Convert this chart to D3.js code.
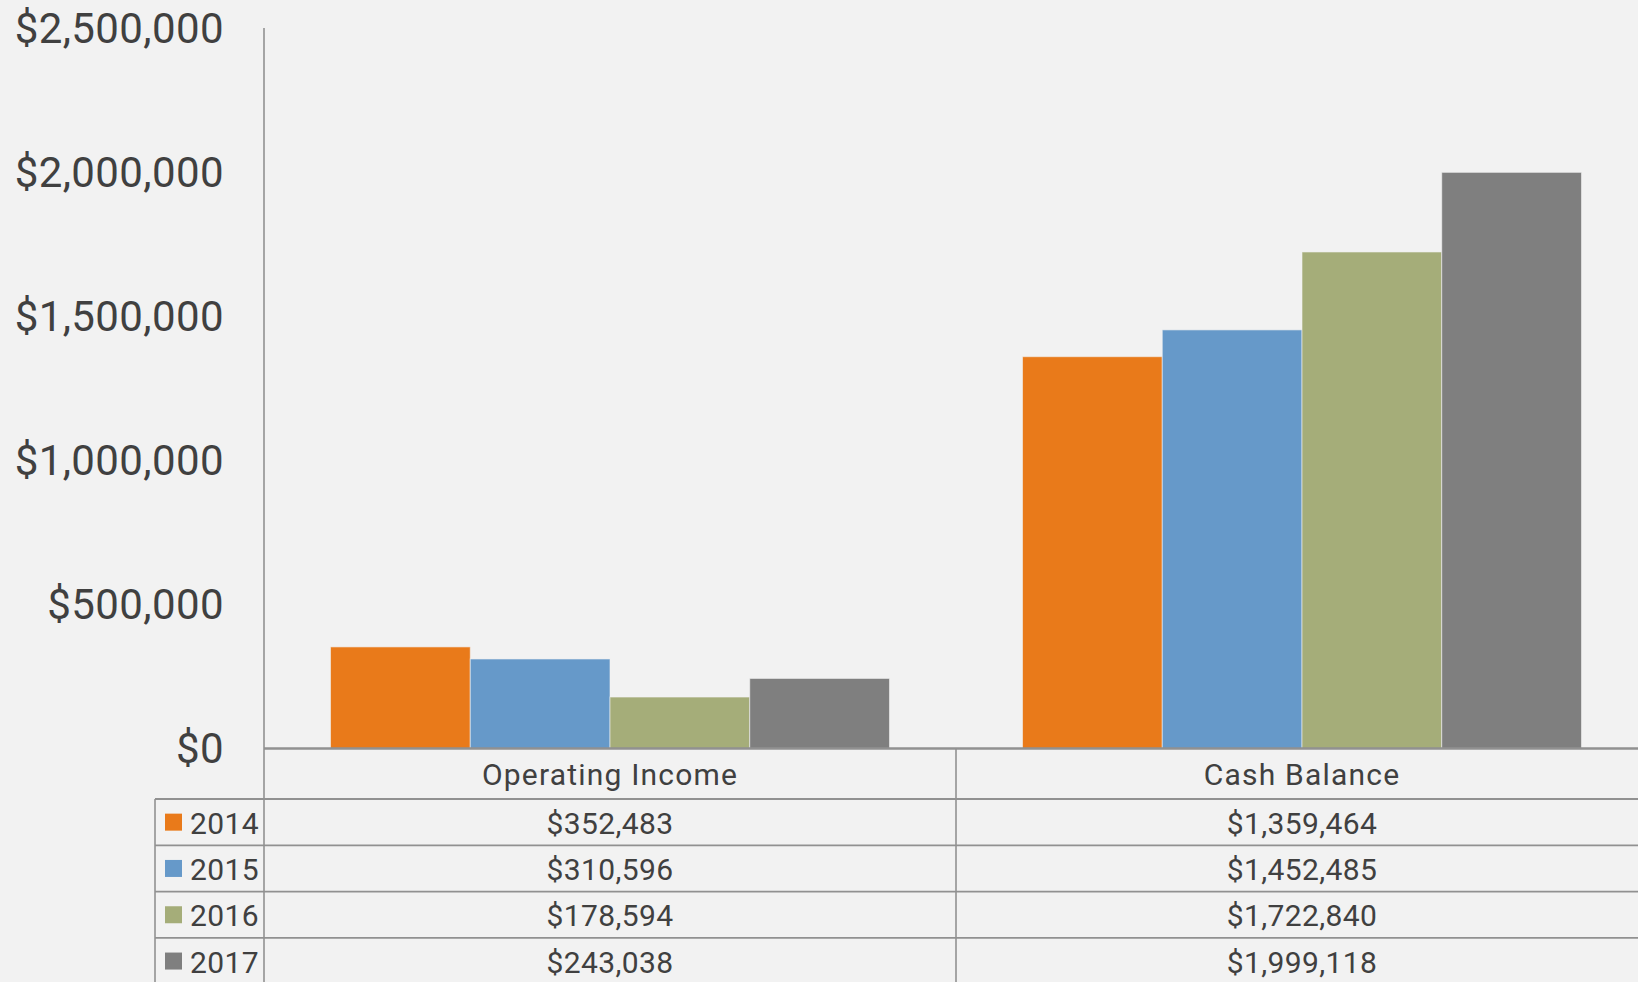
<!DOCTYPE html>
<html>
<head>
<meta charset="utf-8">
<script src="https://cdn.jsdelivr.net/npm/d3@7"></script>
<style>
    html, body { margin: 0; padding: 0; background: #f2f2f2; overflow: hidden; }
    svg { display: block; font-family: Roboto, "Open Sans", sans-serif; }
    .tick-label { font-size: 42px; fill: #404040; letter-spacing: 0.4px; }
    .cell-text { font-size: 30px; fill: #404040; letter-spacing: 0.4px; }
    .header-text { font-size: 30px; fill: #404040; letter-spacing: 1.2px; }
</style>
</head>
<body>
<svg id="chart"></svg>
<script>
// Data
const categories = ["Operating Income", "Cash Balance"];
const years = ["2014", "2015", "2016", "2017"];
const operatingIncome = [352483, 310596, 178594, 243038];
const cashBalance = [1359464, 1452485, 1722840, 1999118];
const yTicks = [0, 500000, 1000000, 1500000, 2000000, 2500000];
const colors = ["#e97a1a", "#6699c9", "#a5ad79", "#7f7f7f"];

const seriesByCategory = [operatingIncome, cashBalance];

const width = 1638;
const height = 982;

// Layout
const plotLeft = 264;
const plotRight = 1648;
const plotTop = 28;
const baseline = 748.5;
const headerHeight = 50.5;
const rowHeight = 46.3;
const legendLeft = 155;
const lineColor = "#919191";

const svg = d3.select("#chart")
    .attr("width", width)
    .attr("height", height);

svg.append("rect")
    .attr("width", width)
    .attr("height", height)
    .attr("fill", "#f2f2f2");

// Scales
const x0 = d3.scaleBand()
    .domain(categories)
    .range([plotLeft, plotRight]);

const x1 = d3.scaleBand()
    .domain(years)
    .range([0, x0.bandwidth()])
    .paddingInner(0)
    .paddingOuter(0.476);

const y = d3.scaleLinear()
    .domain([0, 2500000])
    .range([baseline, plotTop]);

const fmt = d3.format("$,");

// Bars
const catGroups = svg.selectAll(".cat")
    .data(categories)
    .enter()
    .append("g")
    .attr("class", "cat")
    .attr("transform", d => `translate(${x0(d)},0)`);

catGroups.selectAll("rect")
    .data((d, i) => seriesByCategory[i].map((v, j) => ({ year: years[j], value: v, color: colors[j] })))
    .enter()
    .append("rect")
    .attr("x", d => x1(d.year))
    .attr("y", d => y(d.value))
    .attr("width", x1.bandwidth())
    .attr("height", d => baseline - y(d.value))
    .attr("fill", d => d.color)
    .attr("stroke", "#f2f2f2")
    .attr("stroke-opacity", 0.6)
    .attr("stroke-width", 1);

// Y axis labels
svg.selectAll(".tick-label")
    .data(yTicks)
    .enter()
    .append("text")
    .attr("class", "tick-label")
    .attr("x", 224)
    .attr("y", d => y(d))
    .attr("text-anchor", "end")
    .attr("dominant-baseline", "central")
    .text(d => fmt(d));

// Vertical axis line (extends through the data table)
svg.append("line")
    .attr("x1", plotLeft).attr("x2", plotLeft)
    .attr("y1", plotTop).attr("y2", height)
    .attr("stroke", lineColor)
    .attr("stroke-width", 1.6);

// Data table
const tableTop = baseline + headerHeight;
const rowY = d3.range(years.length + 1).map(i => tableTop + i * rowHeight);

// horizontal row lines
svg.selectAll(".row-line")
    .data(rowY)
    .enter()
    .append("line")
    .attr("x1", legendLeft).attr("x2", width)
    .attr("y1", d => d).attr("y2", d => d)
    .attr("stroke", lineColor)
    .attr("stroke-width", 1.8);

// legend column left border
svg.append("line")
    .attr("x1", legendLeft).attr("x2", legendLeft)
    .attr("y1", tableTop).attr("y2", height)
    .attr("stroke", lineColor)
    .attr("stroke-width", 1.6);

// category dividers
svg.selectAll(".cat-line")
    .data(categories.slice(1))
    .enter()
    .append("line")
    .attr("x1", d => x0(d)).attr("x2", d => x0(d))
    .attr("y1", baseline).attr("y2", height)
    .attr("stroke", lineColor)
    .attr("stroke-width", 1.6);

// baseline
svg.append("line")
    .attr("x1", plotLeft).attr("x2", width)
    .attr("y1", baseline).attr("y2", baseline)
    .attr("stroke", lineColor)
    .attr("stroke-width", 2.6);

// header text
svg.selectAll(".header")
    .data(categories)
    .enter()
    .append("text")
    .attr("class", "header-text")
    .attr("x", d => x0(d) + x0.bandwidth() / 2)
    .attr("y", baseline + headerHeight / 2 + 1)
    .attr("text-anchor", "middle")
    .attr("dominant-baseline", "central")
    .text(d => d);

// legend keys and year labels
years.forEach((yr, i) => {
    const cy = tableTop + i * rowHeight + rowHeight / 2;
    svg.append("rect")
        .attr("x", 165)
        .attr("y", cy - 8.5)
        .attr("width", 17)
        .attr("height", 17)
        .attr("fill", colors[i]);
    svg.append("text")
        .attr("class", "cell-text")
        .attr("x", 190)
        .attr("y", cy + 1)
        .attr("dominant-baseline", "central")
        .text(yr);

    categories.forEach((cat, c) => {
        svg.append("text")
            .attr("class", "cell-text")
            .attr("x", x0(cat) + x0.bandwidth() / 2)
            .attr("y", cy + 1)
            .attr("text-anchor", "middle")
            .attr("dominant-baseline", "central")
            .text(fmt(seriesByCategory[c][i]));
    });
});
</script>
</body>
</html>
